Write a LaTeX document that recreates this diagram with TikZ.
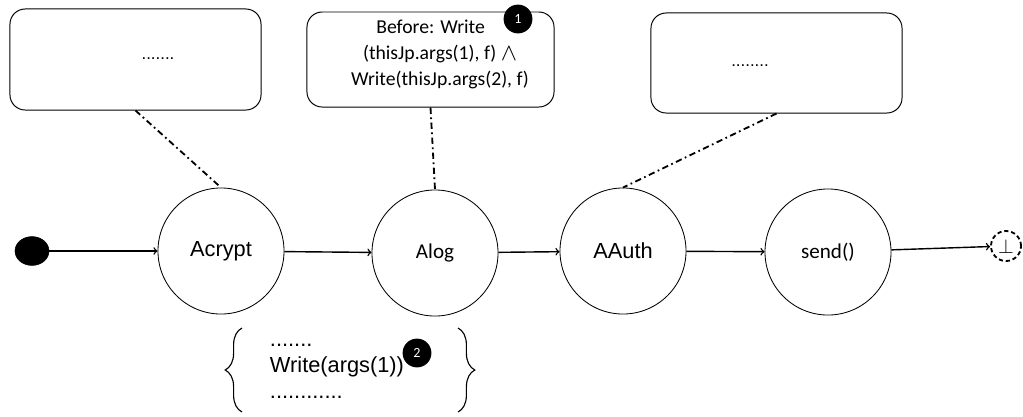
\documentclass[tikz,border=0pt]{standalone}
\usepackage{fontspec}
\setmainfont{Liberation Sans}
\newfontfamily\calibri{Carlito}
\usetikzlibrary{arrows,shapes.geometric,decorations.pathreplacing}
\tikzset{
	flownode/.style = {circle, draw=black, line width=0.6pt, inner sep=0pt,
		minimum size=3.15cm, align=center},
	fl_a/.style = {flownode, font=\fontsize{15.5}{18}\selectfont},% advice, arial
	fl_c/.style = {flownode, font=\calibri\fontsize{15}{18}\selectfont},% advice, calibri
	fl_init/.style = {ellipse, fill=black, draw=black, inner sep=0pt,
		minimum width=0.85cm, minimum height=0.72cm},% start
	fl_end/.style = {circle, draw=black, dash pattern=on 3pt off 2pt, line width=1.3pt,
		inner sep=0pt, minimum size=0.75cm, font=\Large},% end
	annot/.style = {rectangle, rounded corners=0.38cm, draw=black, line width=0.7pt},% condition box
	badge/.style = {circle, fill=black, inner sep=0pt, minimum size=0.72cm,
		text=white, font=\calibri\fontsize{10}{11}\selectfont},% number
	cut/.style = {-, line width=1.3pt,
		dash pattern=on 4.5pt off 2.5pt on 1.2pt off 2.5pt},% box to advice
	flow/.style = {line width=1pt},% transition
	curly/.style = {-, line width=0.8pt, decorate,
		decoration={brace, amplitude=0.42cm}}% code block
}
\begin{document}
\begin{tikzpicture}[->,>=to,x=0.025cm,y=-0.025cm]
	\useasboundingbox (0,0) rectangle (1023,416);
	% flow
	\node [fl_init] (init) at (32,251) {};
	\node [fl_a] (acrypt) at (221,251) {Acrypt};
	\node [fl_c] (alog) at (435,253) {Alog};
	\node [fl_a] (aauth) at (623,251) {AAuth};
	\node [fl_c] (send) at (828,252) {send()};
	\node [fl_end] (fin) at (1006,246) {$\bot$};
	\draw [flow] (init) -- (acrypt);
	\draw [flow] (acrypt) -- (alog);
	\draw [flow] (alog) -- (aauth);
	\draw [flow] (aauth) -- (send);
	\draw [flow] (send) -- (fin);
	% boxes
	\node [annot, minimum width=6.275cm, minimum height=2.525cm] (b1) at (135.5,59.5) {};
	\node [annot, minimum width=6.175cm, minimum height=2.375cm] (b2) at (430.5,59.5) {};
	\node [annot, minimum width=6.275cm, minimum height=2.5cm] (b3) at (776.5,63) {};
	\node [anchor=base, font=\fontsize{12}{14}\selectfont] (t1) at (158,59) {.......};
	\node [align=center, font=\calibri\fontsize{14}{18.5}\selectfont] (t2) at (440,54)
		{Before: Write\phantom{aa}\\(thisJp.args(1), f) \raisebox{-1pt}{\LARGE$\wedge$}\\Write(thisJp.args(2), f)};
	\node [anchor=base, font=\fontsize{12}{14}\selectfont] (t3) at (750,66) {........};
	\node [badge] (n1) at (518,19) {1};
	\draw [cut] (b1.south) -- (acrypt.north);
	\draw [cut] (b2.south) -- (alog.north);
	\draw [cut] (b3.south) -- (aauth.north);
	% code block
	\node [anchor=base west, font=\fontsize{15.5}{18}\selectfont] (w1) at (265,346) {.......};
	\node [anchor=base west, font=\fontsize{15.5}{18}\selectfont] (w2) at (265,372) {Write(args(1))};
	\node [anchor=base west, font=\fontsize{15.5}{18}\selectfont] (w3) at (265,398) {............};
	\node [badge] (n2) at (417,353) {2};
	\coordinate (bl1) at (242,412);
	\coordinate (bl2) at (242,328);
	\coordinate (br1) at (458,328);
	\coordinate (br2) at (458,412);
	\draw [curly] (bl1) -- (bl2);
	\draw [curly] (br1) -- (br2);
\end{tikzpicture}
\end{document}
